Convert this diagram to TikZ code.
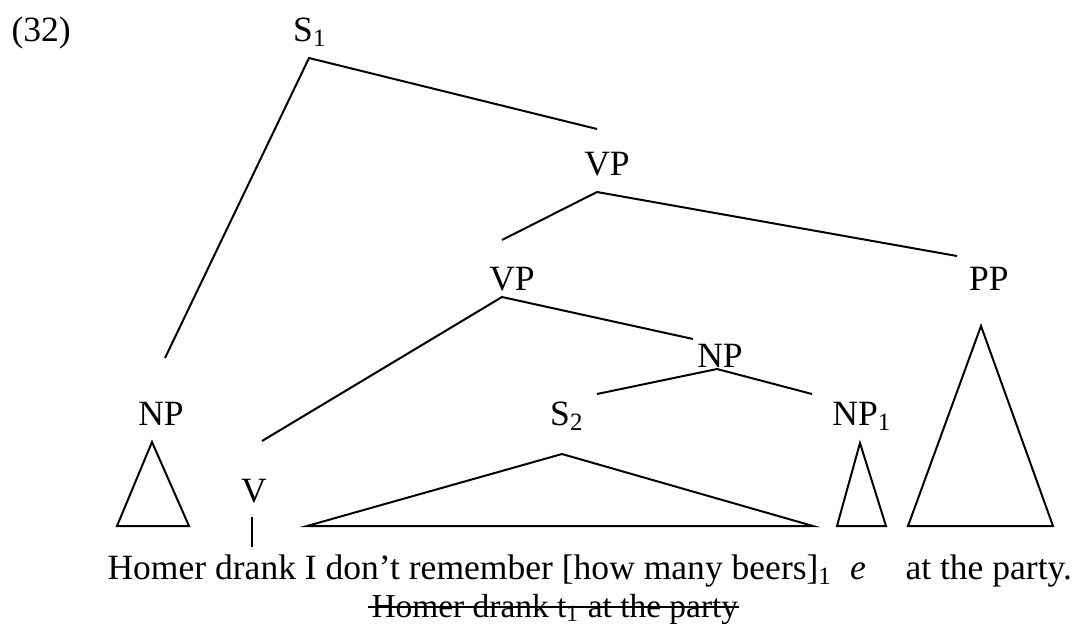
\documentclass[tikz,border=0pt]{standalone}
\usepackage{fontspec}
\setmainfont{Liberation Serif}
\usetikzlibrary{calc}
\newcommand*{\pxu}{0.377pt}
\tikzset{
    cat/.style   = {anchor=base, inner sep=0pt, font=\fontsize{13.4}{15}\selectfont},
    words/.style = {anchor=base west, inner sep=0pt, font=\fontsize{13.4}{15}\selectfont},
    branch/.style= {line width=0.75pt},
    roof/.style  = {line width=0.75pt, line join=miter}
}

\begin{document}
\begin{tikzpicture}[x=\pxu, y=-\pxu]
    \useasboundingbox (0,0) rectangle (1078,624);
    % example number
    \node [words] (num) at (11,41) {(32)};
    % category labels
    \node [cat] (s1)   at (310,41)  {S\textsubscript{1}};
    \node [cat] (vp)   at (607,175) {VP};
    \node [cat] (vpb)  at (512,290) {VP};
    \node [cat] (pp)   at (989,290) {PP};
    \node [cat] (np)   at (720,367) {NP};
    \node [cat] (npl)  at (161,425) {NP};
    \node [cat] (s2)   at (567,425) {S\textsubscript{2}};
    \node [cat] (npo)  at (862,425) {NP\textsubscript{1}};
    \node [cat] (v)    at (254,502) {V};
    % branch ends
    \coordinate (s1-ft)  at (309,58);
    \coordinate (vp-hd)  at (597,129);
    \coordinate (vp-ft)  at (597,192);
    \coordinate (vpb-hd) at (502,240);
    \coordinate (vpb-ft) at (502,297);
    \coordinate (pp-hd)  at (957,256);
    \coordinate (np-hd)  at (693,339);
    \coordinate (np-ft)  at (717,369);
    \coordinate (npl-hd) at (165,358);
    \coordinate (s2-hd)  at (597,394);
    \coordinate (npo-hd) at (812,394);
    \coordinate (v-hd)   at (262,441);
    \draw [branch] (npl-hd) -- (s1-ft) -- (vp-hd);
    \draw [branch] (vpb-hd) -- (vp-ft) -- (pp-hd);
    \draw [branch] (v-hd) -- (vpb-ft) -- (np-hd);
    \draw [branch] (s2-hd) -- (np-ft) -- (npo-hd);
    % roofs
    \draw [roof] (152,442) -- (117,526) -- (189,526) -- cycle;
    \draw [roof] (562,454) -- (307,526) -- (813,526) -- cycle;
    \draw [roof] (860,443) -- (837,526) -- (886,526) -- cycle;
    \draw [roof] (981,326) -- (908,526) -- (1053,526) -- cycle;
    \draw [branch] (252,517) -- (252,547);
    % the sentence
    \node [words] (str)   at (107,579) {Homer drank I don’t remember [how many beers]\textsubscript{1}};
    \node [cat]   (gap)   at (858,579) {\textit{e}};
    \node [words] (party) at (905,579) {at the party.};
    \node [words, font=\fontsize{12.6}{15}\selectfont] (del) at (371,617) {Homer drank t\textsubscript{1} at the party};
    \draw [line width=0.6pt] ([shift={(-3,-10)}]del.base west) -- ([shift={(0,-10)}]del.base east);
\end{tikzpicture}
\end{document}
